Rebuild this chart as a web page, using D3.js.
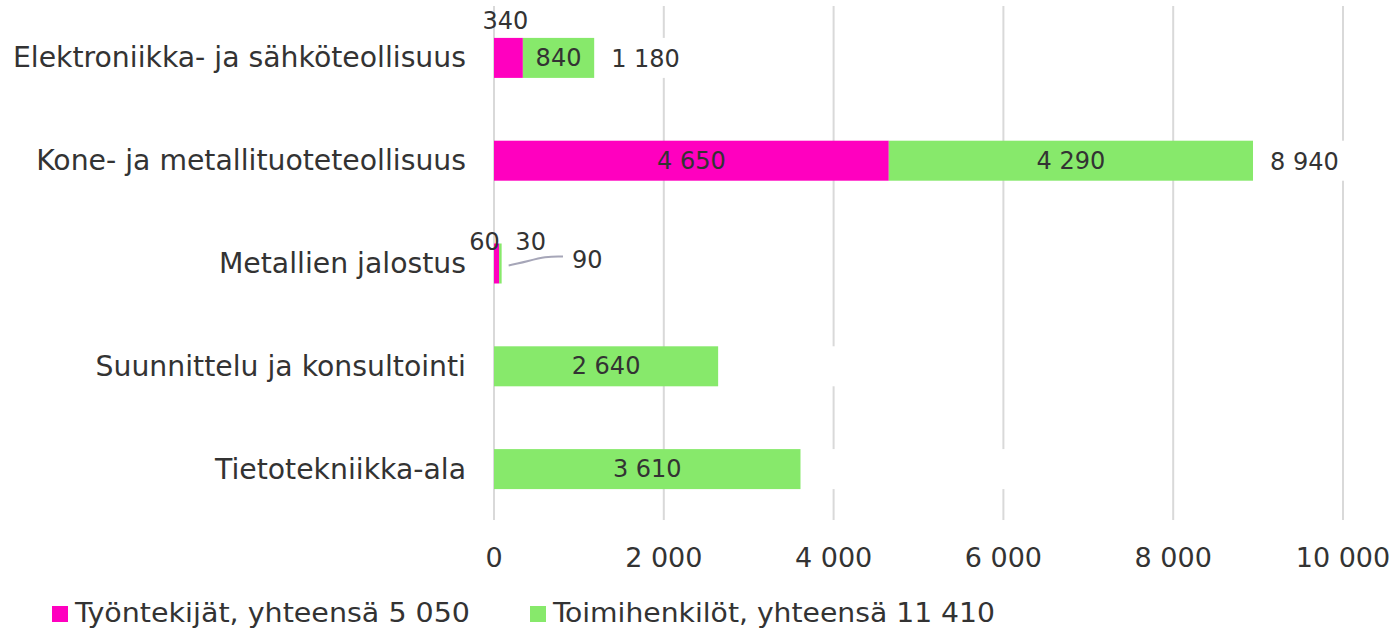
<!DOCTYPE html>
<html><head><meta charset="utf-8">
<script src="https://cdn.jsdelivr.net/npm/d3@7"></script>
<style>body{margin:0;background:#fff}svg{display:block}text{font-family:"DejaVu Sans",Verdana,sans-serif;fill:#333}</style>
</head><body><svg id="c" width="1395" height="629"></svg>
<script>
const categories = ["Elektroniikka- ja sähköteollisuus","Kone- ja metallituoteteollisuus","Metallien jalostus","Suunnittelu ja konsultointi","Tietotekniikka-ala"];
const tyontekijat = [340, 4650, 60, 0, 0];
const toimihenkilot = [840, 4290, 30, 2640, 3610];
const yhteensa = [1180, 8940, 90, null, null];
const seriesNames = ["Työntekijät, yhteensä 5 050","Toimihenkilöt, yhteensä 11 410"];
const xTicks = [0, 2000, 4000, 6000, 8000, 10000];
const colors = ["#ff00bf", "#87e96b"];

const fmt = d3.formatLocale({decimal:",", thousands:"\u00a0", grouping:[3], currency:["","€"]}).format(",d");
const svg = d3.select("#c");
const x = d3.scaleLinear().domain([0, 10000]).range([494, 1343]);
const y = d3.scaleBand().domain(categories).range([6.5, 520.5]);
const barH = 40;

// gridlines
svg.append("g").selectAll("line").data(xTicks).join("line")
  .attr("x1", d => x(d)).attr("x2", d => x(d)).attr("y1", 6).attr("y2", 520)
  .attr("stroke", "#d9d9d9").attr("stroke-width", 2);

// tick labels
svg.append("g").selectAll("text").data(xTicks).join("text")
  .attr("x", d => x(d)).attr("y", 557).attr("text-anchor", "middle")
  .attr("dominant-baseline", "central").style("font-size", "27px").text(d => fmt(d));

// category labels
svg.append("g").selectAll("text").data(categories).join("text")
  .attr("x", 466).attr("y", d => y(d) + y.bandwidth()/2).attr("text-anchor", "end")
  .attr("dominant-baseline", "central").style("font-size", "28.3px").text(d => d);

const rows = categories.map((c, i) => ({c, i, a: tyontekijat[i], b: toimihenkilot[i], t: yhteensa[i]}));

// white total-series bars (hide gridlines behind total labels)
svg.append("clipPath").attr("id", "plot").append("rect").attr("x", 494).attr("y", 0).attr("width", 856).attr("height", 525);
const gT = svg.append("g").attr("clip-path", "url(#plot)");
gT.selectAll("rect").data(rows).join("rect")
  .attr("x", r => x(r.a + r.b)).attr("width", r => x(r.a + r.b) - x(0))
  .attr("y", r => y(r.c) + y.bandwidth()/2 - barH/2).attr("height", barH).attr("fill", "#fff");

// stacked bars
const g = svg.append("g");
g.selectAll("rect.a").data(rows).join("rect").attr("class", "a")
  .attr("x", x(0)).attr("width", r => x(r.a) - x(0))
  .attr("y", r => y(r.c) + y.bandwidth()/2 - barH/2).attr("height", barH).attr("fill", colors[0]);
g.selectAll("rect.b").data(rows).join("rect").attr("class", "b")
  .attr("x", r => x(r.a)).attr("width", r => x(r.a + r.b) - x(r.a))
  .attr("y", r => y(r.c) + y.bandwidth()/2 - barH/2).attr("height", barH).attr("fill", colors[1]);

// data labels
const lab = svg.append("g").style("font-size", "24px");
rows.forEach(r => {
  const cy = y(r.c) + y.bandwidth()/2;
  if (r.a > 0) {
    const small = r.a < 1000;
    let lx = x(r.a/2), ly = cy;
    if (small && r.a < 200) { lx = x(r.a/2) - 12; ly = cy - 22; }
    else if (small) { lx = x(r.a/2) - 3; ly = cy - 37; }
    lab.append("text").attr("x", lx).attr("y", ly)
      .attr("text-anchor", "middle").attr("dominant-baseline", "central").text(fmt(r.a));
  }
  if (r.b > 0) {
    const small = r.b < 200;
    lab.append("text").attr("x", small ? x(r.a + r.b) + 29 : x(r.a + r.b/2)).attr("y", small ? cy - 22 : cy)
      .attr("text-anchor", "middle").attr("dominant-baseline", "central").text(fmt(r.b));
  }
  if (r.t != null) {
    if (r.t < 200) {
      const x0 = x(r.t) + 7, x1 = 563;
      svg.append("path").attr("d", `M${x0},${cy+2} C${x0+25},${cy-3} ${x1-20},${cy-8} ${x1},${cy-7}`)
        .attr("fill", "none").attr("stroke", "#a6a6b8").attr("stroke-width", 2);
      lab.append("text").attr("x", 572).attr("y", cy - 4).attr("dominant-baseline", "central").text(fmt(r.t));
    } else {
      lab.append("text").attr("x", x(r.t) + 17).attr("y", cy + 1).attr("dominant-baseline", "central").text(fmt(r.t));
    }
  }
});

// legend
const leg = svg.append("g");
const legX = [52, 530], legW = [395, 442];
seriesNames.forEach((s, i) => {
  leg.append("rect").attr("x", legX[i]).attr("y", 606).attr("width", 16).attr("height", 16).attr("fill", colors[i]);
  leg.append("text").attr("x", legX[i] + 23).attr("y", 622)
    .attr("textLength", legW[i]).attr("lengthAdjust", "spacingAndGlyphs")
    .style("font-family", "'DejaVu Sans Condensed','DejaVu Sans',sans-serif").style("font-size", "26px").text(s);
});
</script></body></html>
